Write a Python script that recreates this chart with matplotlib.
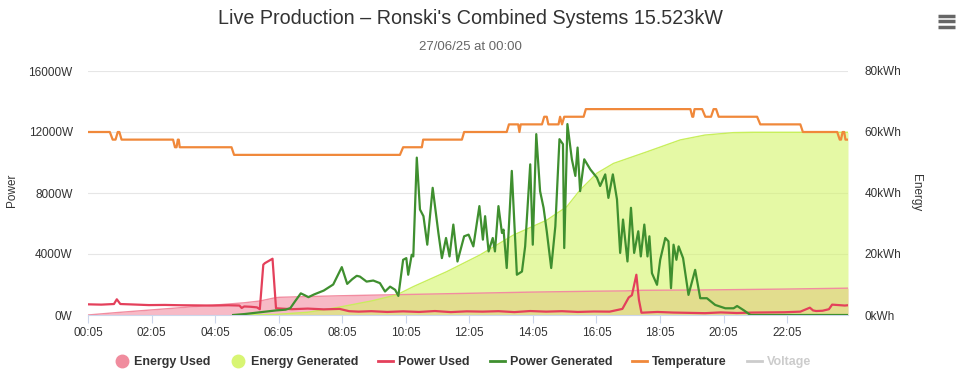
import matplotlib.pyplot as plt
from matplotlib.lines import Line2D
import numpy as np

plt.rcParams['font.family'] = ['Liberation Sans', 'DejaVu Sans']

# Hours of the day (decimal) for every series
used_t = [0.083, 0.5, 0.9, 0.99, 1.1, 1.5, 2.0, 2.5, 3.0, 3.5, 4.0, 4.5, 4.85, 4.92, 5.0,
          5.2, 5.4, 5.49, 5.6, 5.65, 5.89, 6.0, 6.5, 7.0, 7.5, 8.0, 8.3, 8.6, 9.0, 9.5,
          10.0, 10.5, 11.0, 11.5, 12.0, 12.5, 13.0, 13.5, 14.0, 14.5, 15.0, 15.5, 16.0,
          16.5, 16.9, 17.1, 17.2, 17.34, 17.42, 17.5, 18.0, 18.5, 19.0, 19.5, 20.0, 20.5,
          21.0, 21.5, 22.0, 22.5, 22.8, 22.9, 23.0, 23.2, 23.4, 23.5, 23.7, 23.9, 24.0]
used_w = [700, 680, 720, 1030, 720, 690, 650, 660, 640, 630, 620, 640, 620, 460, 560,
          540, 500, 380, 3300, 3400, 3690, 440, 380, 420, 370, 400, 250, 220, 250, 200,
          240, 200, 260, 190, 240, 220, 250, 190, 260, 220, 250, 200, 230,
          220, 400, 1150, 1300, 2640, 1000, 150, 200, 160, 140, 120, 170, 130,
          160, 170, 180, 220, 480, 300, 260, 280, 380, 680, 650, 620, 640]

gen_t = [4.65, 5.0, 5.5, 6.0, 6.3, 6.45, 6.6, 6.78, 6.9, 7.02, 7.2, 7.5, 7.8, 8.07, 8.24,
         8.4, 8.54, 8.64, 8.85, 9.06, 9.27, 9.43, 9.59, 9.75, 9.85, 10.0, 10.1, 10.16,
         10.27, 10.32, 10.43, 10.53, 10.64, 10.76, 10.93, 11.11, 11.22, 11.35, 11.46,
         11.58, 11.71, 11.92, 12.06, 12.21, 12.4, 12.51, 12.58, 12.69, 12.82, 12.89, 13.0,
         13.11, 13.16, 13.26, 13.42, 13.58, 13.74, 13.84, 14.0, 14.08, 14.19, 14.31,
         14.42, 14.52, 14.66, 14.79, 14.92, 15.03, 15.07, 15.17, 15.31, 15.42, 15.49,
         15.57, 15.7, 15.89, 16.1, 16.2, 16.36, 16.46, 16.6, 16.73, 16.83, 16.92, 17.06,
         17.17, 17.27, 17.4, 17.48, 17.59, 17.69, 17.75, 17.83, 17.99, 18.09, 18.25,
         18.35, 18.43, 18.51, 18.6, 18.67, 18.81, 18.98, 19.19, 19.35, 19.56, 19.82,
         20.14, 20.4, 20.51, 20.72, 20.93, 24.0]
gen_w = [0, 60, 180, 300, 350, 450, 900, 1420, 1300, 1170, 1350, 1600, 2000, 3140, 2040,
         2350, 2570, 2520, 2190, 2260, 2090, 1540, 1860, 1650, 1250, 3620, 3730, 2640,
         3950, 3840, 10320, 6920, 6480, 4610, 8340, 5380, 3730, 5050, 3840,
         5930, 3510, 5160, 5270, 4500, 7140, 4940, 6480, 4170, 5050, 4170, 7140,
         5380, 5600, 3080, 9450, 2640, 2850, 4500, 9880, 4610, 11860, 8120,
         7030, 5490, 3080, 5820, 11530, 11200, 4390, 12520, 10210, 9120, 10980,
         8120, 10210, 9550, 9000, 8460, 9220, 7680, 9220, 7580, 4070, 6260, 3510,
         7030, 4070, 5490, 3840, 5930, 3840, 5160, 2740, 1980, 3620, 5050,
         4830, 1760, 4610, 3620, 4500, 3730, 1320, 2960, 1100, 1100, 660,
         440, 440, 590, 310, 0, 0]

eused_t = [0.083, 1.0, 2.0, 3.0, 4.0, 5.0, 5.5, 5.95, 6.1, 8.0, 10.0, 12.0, 14.0, 16.0,
           17.0, 17.5, 19.35, 22.0, 24.0]
eused_kwh = [0, 0.8, 1.6, 2.4, 3.2, 4.0, 4.6, 5.6, 5.8, 6.3, 6.7, 7.1, 7.5, 7.8,
             7.9, 8.1, 8.2, 8.5, 8.8]

egen_t = [4.65, 6.0, 7.0, 8.0, 9.0, 9.8, 10.32, 11.37, 12.42, 13.47, 14.52, 15.15, 15.57,
          16.1, 16.62, 17.67, 18.72, 19.5, 20.4, 21.0, 24.0]
egen_kwh = [0, 0.2, 0.9, 2.6, 4.6, 6.6, 9.3, 14.2, 19.7, 26.2, 31.1, 35.5, 41.0,
            46.5, 49.7, 53.5, 57.4, 59.0, 59.8, 59.9, 59.9]

temp_t = [0.083, 0.77, 0.86, 0.95, 1.02, 1.07, 1.14, 2.76, 2.82, 2.87, 2.91, 2.94, 2.97,
          4.6, 4.68, 9.9, 10.0, 10.59, 10.63, 11.85, 11.92, 13.26, 13.33, 13.62, 13.66,
          13.7, 14.37, 14.44, 14.52, 14.57, 14.89, 14.94, 15.0, 15.07, 15.68, 15.75,
          19.04, 19.1, 19.13, 19.17, 19.41, 19.51, 19.69, 19.77, 19.85, 19.93, 21.14,
          21.24, 22.5, 22.58, 23.66, 23.74, 23.78, 23.83, 23.88, 23.92, 24.0]
temp_c = [12, 12, 11.5, 11.5, 12, 12, 11.5, 11.5, 11, 11, 11.5, 11.5, 11,
          11, 10.5, 10.5, 11, 11, 11.5, 11.5, 12, 12, 12.5, 12.5, 12,
          12.5, 12.5, 13, 13, 12.5, 12.5, 13, 12.5, 13, 13, 13.5,
          13.5, 13, 13, 13.5, 13.5, 13, 13, 13.5, 13.5, 13, 13,
          12.5, 12.5, 12, 12, 11.5, 11.5, 12, 12, 11.5, 11.5]

tick_hours = np.arange(0.0833, 24, 2)
tick_labels = ['00:05', '02:05', '04:05', '06:05', '08:05', '10:05',
               '12:05', '14:05', '16:05', '18:05', '20:05', '22:05']

c_used_fill = '#f28ca0'
c_gen_fill = '#d4f56a'
c_pused = '#e4405b'
c_pgen = '#3f8f2f'
c_temp = '#f0883a'
txt = '#333333'
lab = '#666666'

fig = plt.figure(figsize=(9.6, 3.76), dpi=100)
ax2 = fig.add_axes([88/960, 1-315/376, 760/960, 244/376])   # energy (behind)
ax = ax2.twinx()                                              # power
ax.yaxis.tick_left()
ax3 = ax2.twinx()                                             # temperature (hidden)
ax2.set_zorder(1)
ax.set_zorder(2)
ax3.set_zorder(3)
ax.patch.set_visible(False)
ax3.patch.set_visible(False)

# energy areas
ax2.fill_between(eused_t, eused_kwh, color=c_used_fill, alpha=0.6, lw=0)
ax2.plot(eused_t, eused_kwh, color=c_used_fill, lw=1)
ax2.fill_between(egen_t, egen_kwh, color=c_gen_fill, alpha=0.6, lw=0)
ax2.plot(egen_t, egen_kwh, color='#c8ef5c', lw=1)

# power lines
ax.plot(used_t, used_w, color=c_pused, lw=1.6)
ax.plot(gen_t, gen_w, color=c_pgen, lw=1.6)
ax3.plot(temp_t, temp_c, color=c_temp, lw=1.6)

ax.set_ylim(0, 16000)
ax2.set_ylim(0, 80)
ax3.set_ylim(0, 16)
for a in (ax, ax2, ax3):
    a.set_xlim(0.0833, 24.0)
    for s in a.spines.values():
        s.set_visible(False)
ax3.set_yticks([])

ax.set_yticks(np.arange(0, 16001, 4000))
ax.set_yticklabels([f'{v}W' for v in range(0, 16001, 4000)])
ax2.yaxis.tick_right()
ax2.set_yticks(np.arange(0, 81, 20))
ax2.set_yticklabels([f'{v}kWh' for v in range(0, 81, 20)])
ax.tick_params(axis='y', length=0, pad=11, labelsize=8.5, labelcolor=txt)
ax2.tick_params(axis='y', length=0, pad=12, labelsize=8.5, labelcolor=txt)
ax2.grid(axis='y', color='#e6e6e6', lw=0.8)
ax2.set_axisbelow(True)

ax2.set_xticks(tick_hours)
ax2.set_xticklabels(tick_labels)
ax2.tick_params(axis='x', length=6, color='#ccd6eb', pad=3, labelsize=8.5, labelcolor=txt)
ax.tick_params(axis='x', length=0, labelbottom=False)
ax3.tick_params(axis='x', length=0, labelbottom=False)
ax2.spines['bottom'].set_visible(True)
ax2.spines['bottom'].set_color('#ccd6eb')

fig.text(12/960, 1-190/376, 'Power', rotation=90, ha='center', va='center',
         fontsize=8.5, color=txt)
fig.text(916/960, 1-193/376, 'Energy', rotation=270, ha='center', va='center',
         fontsize=8.5, color=txt)

fig.text(0.49, 0.952, "Live Production \u2013 Ronski's Combined Systems 15.523kW",
         ha='center', va='center', fontsize=14.2, color=txt)
fig.text(0.49, 0.875, '27/06/25 at 00:00', ha='center', va='center', fontsize=9.5, color=lab)

# menu icon
for yy in (0.958, 0.943, 0.928):
    fig.add_artist(Line2D([0.977, 0.995], [yy, yy], color='#666666', lw=2.5,
                          solid_capstyle='butt'))

handles = [
    Line2D([], [], marker='o', ls='none', ms=9, color='#f08c9e'),
    Line2D([], [], marker='o', ls='none', ms=9, color='#d8f573'),
    Line2D([], [], color=c_pused, lw=2),
    Line2D([], [], color=c_pgen, lw=2),
    Line2D([], [], color=c_temp, lw=2),
    Line2D([], [], color='#cccccc', lw=2),
]
labels = ['Energy Used', 'Energy Generated', 'Power Used', 'Power Generated',
          'Temperature', 'Voltage']
leg = fig.legend(handles, labels, ncol=6, loc='center', bbox_to_anchor=(0.482, 0.037),
                 frameon=False, handlelength=1.2, handletextpad=0.4, columnspacing=1.6,
                 prop={'weight': 'bold', 'size': 9})
for t in leg.get_texts():
    t.set_color(txt)
leg.get_texts()[-1].set_color('#cccccc')

fig.savefig('out.png', dpi=100)
